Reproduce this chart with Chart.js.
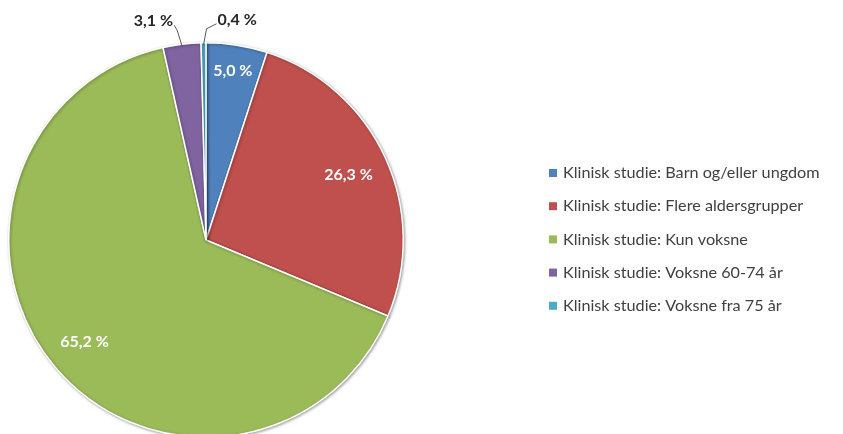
<!DOCTYPE html>
<html>
<head>
<meta charset="utf-8">
<script src="https://cdn.jsdelivr.net/npm/chart.js@4.4.1/dist/chart.umd.min.js"></script>
<style>
  html, body { margin: 0; padding: 0; background: #fff; overflow: hidden; }
  #wrap { width: 843px; height: 434px; overflow: hidden; }
</style>
</head>
<body>
<div id="wrap"><canvas id="pie" width="843" height="480"></canvas></div>
<script>
// ------------ data -----------------------
var kategorier = [
  "Klinisk studie: Barn og/eller ungdom",
  "Klinisk studie: Flere aldersgrupper",
  "Klinisk studie: Kun voksne",
  "Klinisk studie: Voksne 60-74 år",
  "Klinisk studie: Voksne fra 75 år"
];
var andeler = [5.0, 26.3, 65.2, 3.1, 0.4];
var farger = ["#4f81bd", "#c0504d", "#9bbb59", "#8064a2", "#4bacc6"];

var FONT = "Lato, 'Open Sans', sans-serif";

function fmt(v) {
  return v.toFixed(1).replace(".", ",") + " %";
}

// ------------ slice labels ----------------
var etiketter = {
  id: "etiketter",
  afterDatasetsDraw: function (chart) {
    var ctx = chart.ctx;
    var arcs = chart.getDatasetMeta(0).data;
    ctx.save();
    ctx.font = "bold 16px " + FONT;
    ctx.textBaseline = "middle";
    arcs.forEach(function (arc, i) {
      var v = andeler[i];
      var txt = fmt(v);
      var mid = (arc.startAngle + arc.endAngle) / 2;
      var cx = arc.x, cy = arc.y, R = arc.outerRadius;
      var s = Math.cos(mid), c = Math.sin(mid); // x and y direction
      if (v >= 4) {
        // inside end
        var hw = ctx.measureText(txt).width / 2, hh = 8;
        var r = R - 15 - (hw * Math.abs(s) + hh * Math.abs(c));
        ctx.fillStyle = "#ffffff";
        ctx.textAlign = "center";
        ctx.fillText(txt, cx + r * s, cy + r * c);
      } else {
        // outside with leader line
        var x0 = cx + (R - 2) * s, y0 = cy + (R - 2) * c;
        var left = s < -0.05;
        var x1 = x0 + (left ? -5 : 3), y1 = y0 - 16;
        var x2 = x1 + (left ? -3 : 10), y2 = y1 - 5;
        ctx.strokeStyle = "#595959";
        ctx.lineWidth = 1;
        ctx.beginPath();
        ctx.moveTo(x0, y0);
        ctx.lineTo(x1, y1);
        ctx.lineTo(x2, y2);
        ctx.stroke();
        ctx.fillStyle = "#262626";
        ctx.textAlign = left ? "right" : "left";
        ctx.fillText(txt, x2 + (left ? -1 : 1), y2 - 4);
      }
    });
    ctx.restore();
  }
};

// ------------ legend -----------------------
var forklaring = {
  id: "forklaring",
  afterDraw: function (chart) {
    var ctx = chart.ctx;
    ctx.save();
    ctx.font = "16.2px " + FONT;
    ctx.textBaseline = "middle";
    ctx.textAlign = "left";
    kategorier.forEach(function (k, i) {
      var y = 173 + i * 33.2;
      ctx.fillStyle = farger[i];
      ctx.fillRect(549, y - 4, 8, 8);
      ctx.fillStyle = "#404040";
      ctx.fillText(k, 563, y);
    });
    ctx.restore();
  }
};

// soft edge shadow under the pie
var skygge = {
  id: "skygge",
  beforeDatasetsDraw: function (chart) {
    var ctx = chart.ctx;
    ctx.save();
    ctx.shadowColor = "rgba(0,0,0,0.35)";
    ctx.shadowBlur = 3;
    ctx.shadowOffsetX = 1;
    ctx.shadowOffsetY = 1;
  },
  afterDatasetsDraw: function (chart) {
    chart.ctx.restore();
  }
};

// ------------ chart -----------------------
var ctx = document.getElementById("pie");

var myChart = new Chart(ctx, {
  type: "pie",
  data: {
    labels: kategorier,
    datasets: [
      {
        data: andeler,
        backgroundColor: farger,
        borderColor: "#ffffff",
        borderWidth: 1.5,
      },
    ],
  },
  options: {
    responsive: false,
    animation: false,
    layout: {
      padding: { left: 8, right: 439, top: 42, bottom: 42 },
    },
    plugins: {
      legend: { display: false },
      tooltip: { enabled: false },
    },
  },
  plugins: [skygge, etiketter, forklaring],
});
</script>
</body>
</html>
